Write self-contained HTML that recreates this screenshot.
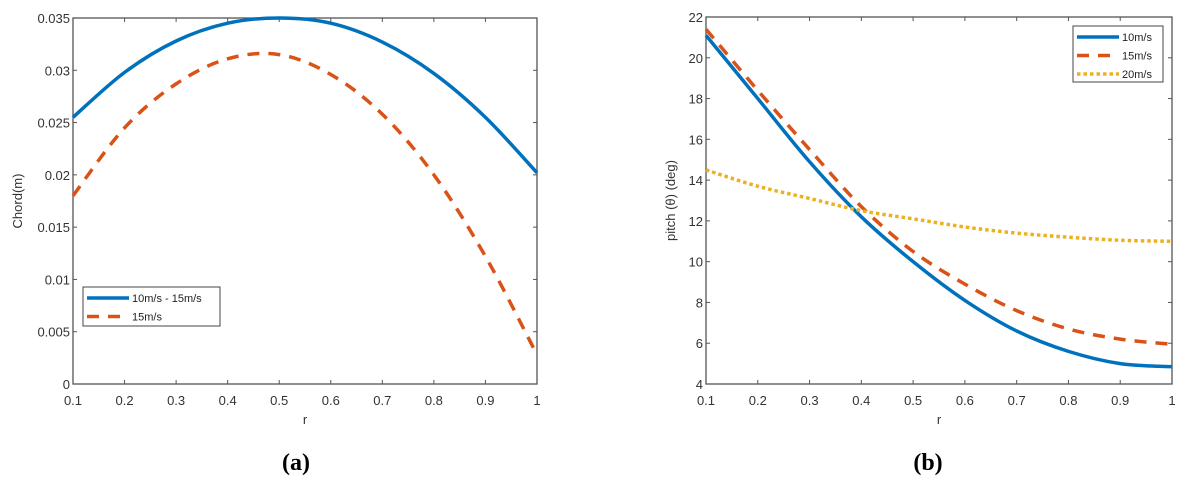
<!DOCTYPE html>
<html><head><meta charset="utf-8"><style>
body{margin:0;background:#fff;}
svg{display:block;font-family:"Liberation Sans",sans-serif;}
</style></head><body>
<svg id="s" width="1203" height="483">
<text x="296" y="470" font-family="Liberation Serif" font-size="24" font-weight="bold" text-anchor="middle">(a)</text>
<text x="928" y="470" font-family="Liberation Serif" font-size="24" font-weight="bold" text-anchor="middle">(b)</text>
</svg>
<script>
const xVals=[0.1,0.2,0.3,0.4,0.5,0.6,0.7,0.8,0.9,1.0];
const chordBlue=[0.0255,0.0298,0.0328,0.0345,0.0350,0.0345,0.0327,0.0297,0.0255,0.0202];
const chordOrange=[0.0180,0.0245,0.0287,0.0311,0.0315,0.0296,0.0258,0.0200,0.0122,0.0028];
const pitch10=[21.1,18.0,14.9,12.2,10.0,8.1,6.6,5.6,5.0,4.85];
const pitch15=[21.4,18.4,15.5,12.7,10.5,8.9,7.6,6.7,6.2,5.95];
const pitch20=[14.5,13.7,13.1,12.5,12.1,11.7,11.4,11.2,11.05,11.0];
const xTicks=[0.1,0.2,0.3,0.4,0.5,0.6,0.7,0.8,0.9,1];
const xTickLabels=["0.1","0.2","0.3","0.4","0.5","0.6","0.7","0.8","0.9","1"];
const yTicksA=[0,0.005,0.01,0.015,0.02,0.025,0.03,0.035];
const yTickLabelsA=["0","0.005","0.01","0.015","0.02","0.025","0.03","0.035"];
const yTicksB=[4,6,8,10,12,14,16,18,20,22];
const yTickLabelsB=["4","6","8","10","12","14","16","18","20","22"];

const NS="http://www.w3.org/2000/svg";
const svg=document.getElementById('s');
function mk(t,a,p){const e=document.createElementNS(NS,t);for(const k in a)e.setAttribute(k,a[k]);(p||svg).appendChild(e);return e;}
function smooth(pts){let d=`M${pts[0][0]},${pts[0][1]}`;for(let i=0;i<pts.length-1;i++){const p0=pts[Math.max(0,i-1)],p1=pts[i],p2=pts[i+1],p3=pts[Math.min(pts.length-1,i+2)];
const c1=[p1[0]+(p2[0]-p0[0])/6,p1[1]+(p2[1]-p0[1])/6],c2=[p2[0]-(p3[0]-p1[0])/6,p2[1]-(p3[1]-p1[1])/6];d+=`C${c1[0]},${c1[1]} ${c2[0]},${c2[1]} ${p2[0]},${p2[1]}`;}return d;}
function panel(o){
 const g=mk('g',{});
 
 
 const sx=v=>o.L+(v-0.1)/0.9*(o.R-o.L);
 const sy=v=>o.B-(v-o.ymin)/(o.ymax-o.ymin)*(o.B-o.T);
 xTicks.forEach((v,i)=>{const x=sx(v);
  mk('line',{x1:x,x2:x,y1:o.B,y2:o.B-4,stroke:'#555'},g);mk('line',{x1:x,x2:x,y1:o.T,y2:o.T+4,stroke:'#555'},g);
  const t=mk('text',{x:x,y:o.B+21,'font-size':13,fill:'#333','text-anchor':'middle'},g);t.textContent=xTickLabels[i];
  
  });
 o.yt.forEach((v,i)=>{const y=sy(v);
  mk('line',{x1:o.L,x2:o.L+4,y1:y,y2:y,stroke:'#555'},g);mk('line',{x1:o.R,x2:o.R-4,y1:y,y2:y,stroke:'#555'},g);
  const t=mk('text',{x:o.L-3,y:y+5,'font-size':13,fill:'#333','text-anchor':'end'},g);t.textContent=o.yl[i];
  
  });
 const ax=mk('rect',{x:o.L,y:o.T,width:o.R-o.L,height:o.B-o.T,fill:'none',stroke:'#555','stroke-width':1.3},g);
 
 
 const xt=mk('text',{x:(o.L+o.R)/2,y:o.B+40,'font-size':13,fill:'#333','text-anchor':'middle'},g);xt.textContent='r';
 
 
 const yc=(o.T+o.B)/2;
 const yt=mk('text',{x:o.ylx,y:yc,'font-size':13,fill:'#333','text-anchor':'middle',transform:`rotate(-90 ${o.ylx} ${yc})`},g);yt.textContent=o.ytitle;
 
 
 o.series.forEach(s=>{const p=mk('path',{d:smooth(xVals.map((x,i)=>[sx(x),sy(s.v[i])])),fill:'none',stroke:s.c,'stroke-width':3.5,'stroke-dasharray':s.dash||'none'},g);
  
  });
 const lg=mk('g',{},g);
 
 
 mk('rect',{x:o.lx,y:o.ly,width:o.lw,height:o.lh,fill:'#fff',stroke:'#444','stroke-width':1},lg);
 o.series.forEach((s,i)=>{const y=o.ly+11+i*18.5;
  mk('line',{x1:o.lx+4,x2:o.lx+46,y1:y,y2:y,stroke:s.c,'stroke-width':3.5,'stroke-dasharray':s.dash||'none'},lg);
  const t=mk('text',{x:o.lx+49,y:y+4,'font-size':11,fill:'#222'},lg);t.textContent=s.label;
  
  });
}
panel({name:'chord-chart',L:73,R:537,T:18,B:384,ymin:0,ymax:0.035,yt:yTicksA,yl:yTickLabelsA,ytitle:'Chord(m)',ylx:22,
 lx:83,ly:287,lw:137,lh:39,
 series:[{n:'line-10-15ms',v:chordBlue,c:'#0072BD',label:'10m/s - 15m/s'},{n:'line-15ms',v:chordOrange,c:'#D95319',dash:'12 9',label:'15m/s'}]});
panel({name:'pitch-chart',L:706,R:1172,T:17,B:384,ymin:4,ymax:22,yt:yTicksB,yl:yTickLabelsB,ytitle:'pitch (\u03B8) (deg)',ylx:675,
 lx:1073,ly:26,lw:90,lh:56,
 series:[{n:'line-10ms',v:pitch10,c:'#0072BD',label:'10m/s'},{n:'line-15ms',v:pitch15,c:'#D95319',dash:'12 9',label:'15m/s'},{n:'line-20ms',v:pitch20,c:'#EDB120',dash:'3.5 3',label:'20m/s'}]});
</script>
</body></html>
